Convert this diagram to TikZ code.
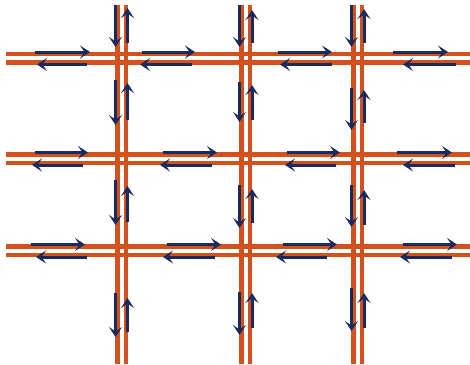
\documentclass[tikz,border=0pt]{standalone}
\usetikzlibrary{arrows.meta}
\definecolor{road}{HTML}{D2521E}
\definecolor{navy}{HTML}{1B2A5E}
\tikzset{
  roadline/.style={draw=road, line width=4.6pt},
  flow/.style={draw=navy, line width=3pt, -{Stealth[length=10pt,width=13pt,inset=4.5pt]}},
}
\begin{document}
\begin{tikzpicture}[x=1pt,y=-1pt]
\useasboundingbox (0,0) rectangle (470,364);
% horizontal roads
\foreach \y in {54,62.5,154.5,163,246.5,255}
  \draw[roadline] (6,\y) -- (470,\y);
% vertical roads
\foreach \x in {117.5,126,241.5,250,353.5,362}
  \draw[roadline] (\x,5) -- (\x,364);
% horizontal arrows
\foreach \a/\b/\c/\d in {35/90/87/37, 142/195/192/140, 278/332/332/280, 393/448/456/403}{
  \draw[flow] (\a,52) -- (\b,52);
  \draw[flow] (\c,64.5) -- (\d,64.5);
}
\foreach \a/\b/\c/\d in {35/88/83/32, 163/217/212/160, 287/340/336/285, 397/452/455/403}{
  \draw[flow] (\a,152.5) -- (\b,152.5);
  \draw[flow] (\c,165) -- (\d,165);
}
\foreach \a/\b/\c/\d in {31/85/87/36, 167/221/215/163, 283/337/327/276, 403/457/452/400}{
  \draw[flow] (\a,244.5) -- (\b,244.5);
  \draw[flow] (\c,257) -- (\d,257);
}
% vertical arrows
\foreach \a/\b/\c/\d in {5/47/43/8, 80/125/120/83, 180/225/222/186, 293/337/332/298}{
  \draw[flow] (115.5,\a) -- (115.5,\b);
  \draw[flow] (127.5,\c) -- (127.5,\d);
}
\foreach \a/\b/\c/\d in {5/47/43/10, 82/122/120/85, 185/228/223/189, 292/335/328/293}{
  \draw[flow] (239.5,\a) -- (239.5,\b);
  \draw[flow] (252,\c) -- (252,\d);
}
\foreach \a/\b/\c/\d in {5/47/43/9, 88/130/123/90, 185/227/225/190, 288/331/328/293}{
  \draw[flow] (351.5,\a) -- (351.5,\b);
  \draw[flow] (364,\c) -- (364,\d);
}
\end{tikzpicture}
\end{document}
